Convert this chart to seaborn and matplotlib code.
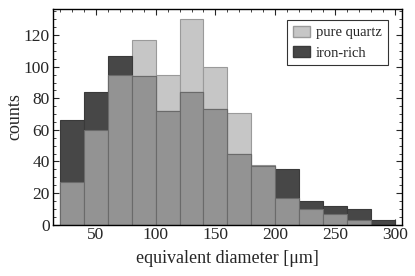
"""Overlaid size histograms: pure quartz vs iron-rich grains."""

import matplotlib

matplotlib.use("Agg")
import matplotlib.pyplot as plt
import matplotlib.ticker as mtick
import numpy as np
import pandas as pd
import seaborn as sns
from matplotlib.patches import Patch

BIN_EDGES = [20, 40, 60, 80, 100, 120, 140, 160, 180, 200, 220, 240, 260, 280, 300]
QUARTZ_COUNTS = [27, 60, 95, 117, 95, 130, 100, 71, 38, 17, 10, 7, 3, 0]
IRON_COUNTS = [66, 84, 107, 94, 72, 84, 73, 45, 37, 35, 15, 12, 10, 3]

LIGHT = "#c6c6c6"
DARK = "#474747"
MID = "#939393"

sns.set_theme(style="ticks")
plt.rcParams["font.family"] = ["Liberation Serif", "DejaVu Serif"]

edges = np.array(BIN_EDGES, dtype=float)
frame = pd.DataFrame(
    {
        "diameter": (edges[:-1] + edges[1:]) / 2,
        "quartz": np.array(QUARTZ_COUNTS, dtype=float),
        "iron": np.array(IRON_COUNTS, dtype=float),
    }
)
frame["overlap"] = frame[["quartz", "iron"]].min(axis=1)

fig = plt.figure(figsize=(4.15, 2.76), dpi=100)
ax = fig.add_axes([0.127, 0.186, 0.842, 0.781])

layers = [
    ("quartz", LIGHT, "#9a9a9a"),
    ("iron", DARK, "#3a3a3a"),
    ("overlap", MID, "#6a6a6a"),
]
for column, face, edge in layers:
    sns.histplot(
        data=frame,
        x="diameter",
        weights=column,
        binwidth=20,
        binrange=(BIN_EDGES[0], BIN_EDGES[-1]),
        stat="count",
        element="bars",
        color=face,
        edgecolor=edge,
        linewidth=0.8,
        alpha=1,
        ax=ax,
    )

ax.set_xlim(14, 306)
ax.set_ylim(0, 136.5)
ax.xaxis.set_major_locator(mtick.MultipleLocator(50))
ax.xaxis.set_minor_locator(mtick.MultipleLocator(10))
ax.yaxis.set_major_locator(mtick.MultipleLocator(20))
ax.yaxis.set_minor_locator(mtick.MultipleLocator(5))
ax.tick_params(which="both", direction="in", top=True, right=True, labelsize=12.5, pad=2)
ax.tick_params(which="major", length=4, width=0.8)
ax.tick_params(which="minor", length=2, width=0.6)
for spine in ax.spines.values():
    spine.set_linewidth(1.0)
    spine.set_color("black")

ax.set_xlabel("equivalent diameter [μm]", fontsize=13, labelpad=5)
ax.set_ylabel("counts", fontsize=13, labelpad=0)

handles = [
    Patch(facecolor=LIGHT, edgecolor="#9a9a9a", label="pure quartz"),
    Patch(facecolor=DARK, edgecolor="#3a3a3a", label="iron-rich"),
]
legend = ax.legend(
    handles=handles,
    loc="upper right",
    bbox_to_anchor=(0.959, 0.95),
    borderaxespad=0,
    fontsize=10.5,
    frameon=True,
    fancybox=False,
    edgecolor="black",
    handlelength=1.2,
    handleheight=0.8,
    handletextpad=0.4,
    borderpad=0.4,
    labelspacing=0.45,
)
legend.get_frame().set_linewidth(0.8)

fig.savefig("out.png", dpi=100)
